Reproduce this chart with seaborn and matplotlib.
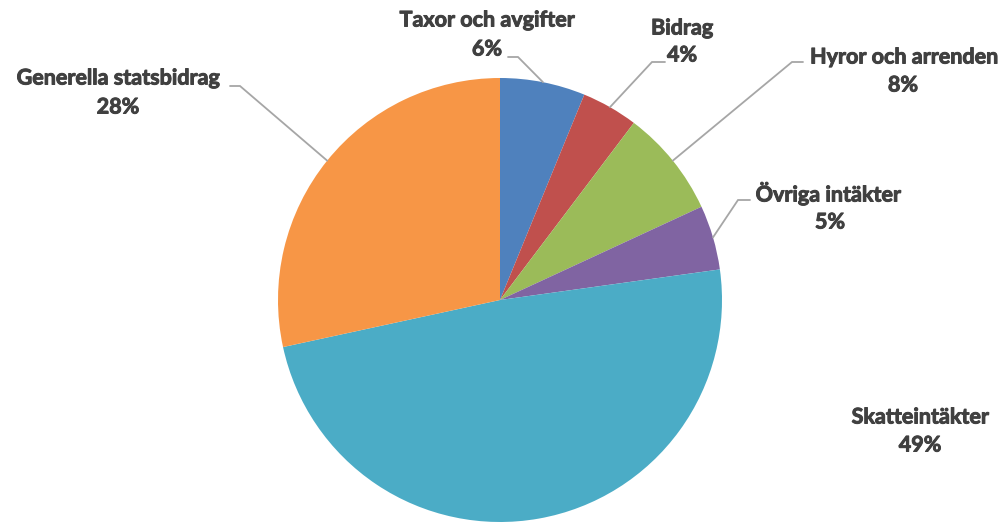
import numpy as np
import matplotlib.pyplot as plt
import matplotlib.patheffects as pe
import seaborn as sns

# revenue shares (percent), clockwise from 12 o'clock
categories = ["Taxor och avgifter", "Bidrag", "Hyror och arrenden",
              "Övriga intäkter", "Skatteintäkter", "Generella statsbidrag"]
shares = [6.2, 4.1, 7.8, 4.7, 48.8, 28.4]
pct_labels = ["6%", "4%", "8%", "5%", "49%", "28%"]

colors = ["#4F81BD", "#C0504D", "#9BBB59", "#8064A2", "#4BACC6", "#F79646"]

sns.set_theme(style="white")
plt.rcParams["font.family"] = ["Lato", "DejaVu Sans"]

W, H = 1007, 524
fig = plt.figure(figsize=(W / 100, H / 100), dpi=100)
ax = fig.add_axes([0, 0, 1, 1])

cx, cy, r = 500, H - 300, 222
wedges, _ = ax.pie(shares, colors=colors, startangle=90, counterclock=False,
                   center=(cx, cy), radius=r, frame=False,
                   wedgeprops=dict(linewidth=0))
ax.set_xlim(0, W)
ax.set_ylim(0, H)
ax.set_aspect("equal")
ax.axis("off")

# label layout in pixel coords (from top): name centre, pct centre, leader (start, elbow)
name_pos = [(487, 20), (682, 28), (904, 57), (828, 193), (920, 417), (118, 78)]
pct_pos = [(487, 49), (682, 55), (903, 85), (830, 222), (920, 445), (118, 107)]
leaders = [((508, 57), (518, 57)), ((665, 62), (652, 62)), ((803, 62), (792, 62)),
           ((750, 200), (738, 200)), None, ((230, 86), (240, 86))]

txt = "#404040"
fs = 15.5
thick = [pe.withStroke(linewidth=0.7, foreground=txt)]
for w, name, pct, npos, ppos, ld in zip(wedges, categories, pct_labels,
                                        name_pos, pct_pos, leaders):
    ax.text(npos[0], H - npos[1], name, ha="center", va="center",
            fontsize=fs, fontweight="bold", color=txt, path_effects=thick)
    ax.text(ppos[0], H - ppos[1], pct, ha="center", va="center",
            fontsize=fs, fontweight="bold", color=txt, path_effects=thick)
    if ld is None:
        continue
    mid = np.deg2rad((w.theta1 + w.theta2) / 2)
    ax_, ay_ = cx + r * np.cos(mid), cy + r * np.sin(mid)
    (x0, y0), (x1, y1) = ld
    ax.plot([x0, x1, ax_], [H - y0, H - y1, ay_], color="#A6A6A6", lw=1.3,
            solid_joinstyle="miter")

fig.savefig("out.png", dpi=100)
